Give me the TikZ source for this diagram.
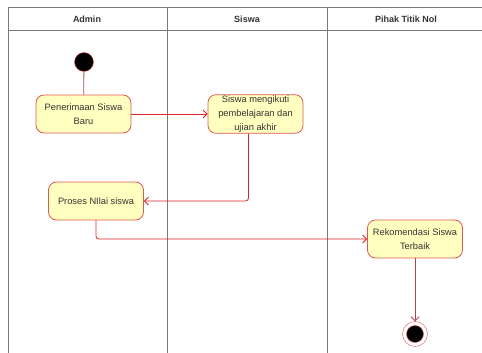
\documentclass[tikz,border=0pt]{standalone}
\usepackage{fontspec}
\setmainfont{Liberation Sans}
\usetikzlibrary{arrows.meta}

\definecolor{actfill}{HTML}{FFFFC0}
\definecolor{actline}{HTML}{E05555}
\definecolor{flowred}{HTML}{E02424}
\definecolor{flowdark}{HTML}{B04A4A}
\definecolor{laneline}{HTML}{7A7A7A}

\begin{document}
\begin{tikzpicture}[x=1pt,y=-1pt,
	every node/.style={font=\fontsize{9.3}{14}\selectfont,text=black!80},
	activity/.style={draw=actline,fill=actfill,rounded corners=8pt,thick,
		minimum width=95pt,minimum height=38pt,align=center,inner sep=1pt},
	flow/.style={draw=flowred,thick,rounded corners=3pt,-{Straight Barb[length=4pt,width=8pt]}},
	lane/.style={draw=laneline,thick}]
\useasboundingbox (0,0) rectangle (482,353);

% swimlanes
\draw[lane] (8,353) -- (8,7) -- (486,7);
\draw[lane] (8,30) -- (486,30);
\foreach \x in {167,327}
	\draw[lane] (\x,7) -- (\x,353);
\foreach \x/\name [count=\i] in {87/Admin,247/Siswa,406/Pihak Titik Nol}
	\node[font=\bfseries\fontsize{9}{10}\selectfont] (lane\i) at (\x,19) {\name};

% activities
\node[circle,fill=black,draw=actline,minimum size=19pt,inner sep=0pt] (start) at (84,62) {};
\node[activity] (terima) at (83.5,114) {Penerimaan Siswa\\Baru};
\node[activity] (ikut) at (255.5,114) {Siswa mengikuti\\pembelajaran dan\\ujian akhir};
\node[activity] (nilai) at (96,201) {Proses NIlai siswa};
\node[activity] (rekom) at (415,239) {Rekomendasi Siswa\\Terbaik};
\node[circle,fill=white,draw=actline,minimum size=25pt,inner sep=0pt] (end) at (415,334) {};
\node[circle,fill=black,draw=actline,minimum size=17pt,inner sep=0pt] at (end) {};

\draw[draw=flowdark,thick] (start) -- (terima);
\draw[flow] (terima.east) -- (ikut.west);
\draw[flow] ([xshift=-7pt]ikut.south) |- (nilai.east);
\draw[flow] (nilai.south) |- (rekom.west);
\draw[flow,draw=flowdark] (rekom) -- (end);
\end{tikzpicture}
\end{document}
